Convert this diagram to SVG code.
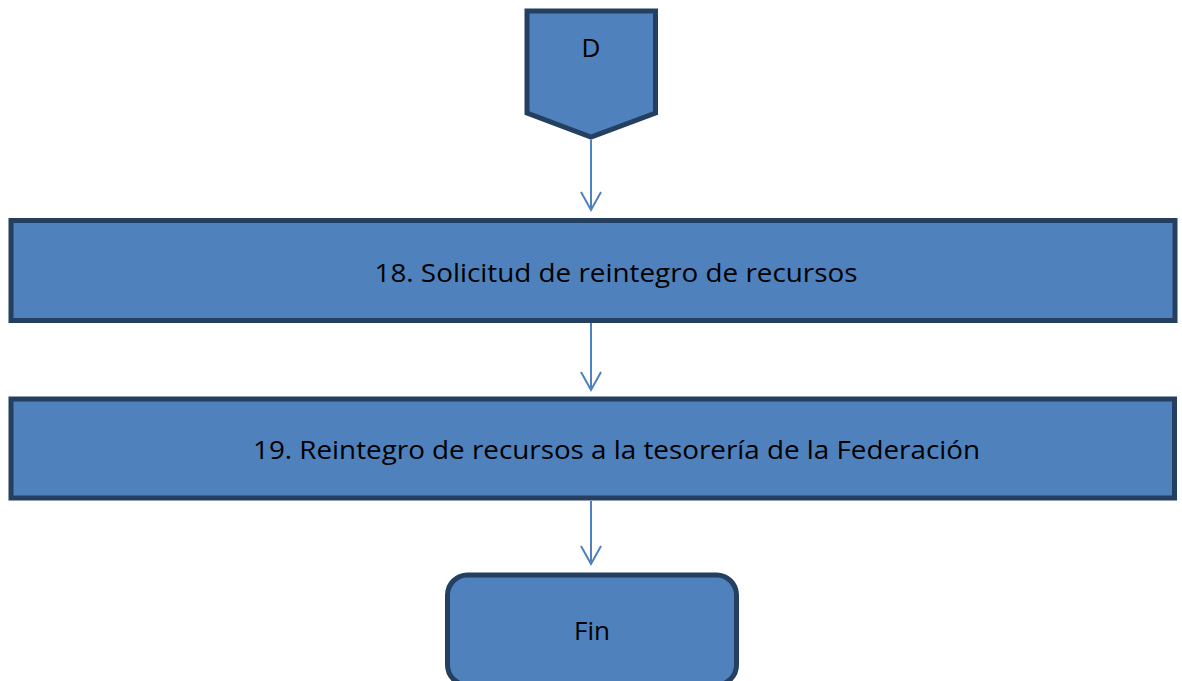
<svg xmlns="http://www.w3.org/2000/svg" width="1182" height="681" viewBox="0 0 1182 681">
<style>
.n{fill:#4F81BD;stroke:#243F60;stroke-width:5}
.t{font-family:"Open Sans","Liberation Sans",sans-serif;font-size:26px;fill:#000;text-anchor:middle}
.c{fill:none;stroke:#4F81BD;stroke-width:2}
</style>
<rect width="1182" height="681" fill="#fff"/>
<g id="connectors">
<line class="c" x1="591" y1="140" x2="591" y2="210"/>
<polyline class="c" points="581,192 591,210 601,192"/>
<line class="c" x1="591" y1="323" x2="591" y2="390"/>
<polyline class="c" points="581,372 591,390 601,372"/>
<line class="c" x1="591" y1="501" x2="591" y2="564"/>
<polyline class="c" points="581,546 591,564 601,546"/>
</g>
<g id="nodeD">
<polygon class="n" points="527,11 655.5,11 655.5,113 591,137 527,113"/>
<text class="t" x="591" y="57">D</text>
</g>
<g id="node18">
<rect class="n" x="11" y="220.5" width="1164" height="100"/>
<text class="t" x="616" y="282" textLength="483" lengthAdjust="spacingAndGlyphs">18. Solicitud de reintegro de recursos</text>
</g>
<g id="node19">
<rect class="n" x="11" y="399" width="1163.5" height="99"/>
<text class="t" x="616.5" y="459" textLength="727" lengthAdjust="spacingAndGlyphs">19. Reintegro de recursos a la tesorería de la Federación</text>
</g>
<g id="nodeFin">
<rect class="n" x="447.5" y="575" width="289" height="110" rx="20" ry="20"/>
<text class="t" x="592" y="640" textLength="36" lengthAdjust="spacingAndGlyphs">Fin</text>
</g>
</svg>
